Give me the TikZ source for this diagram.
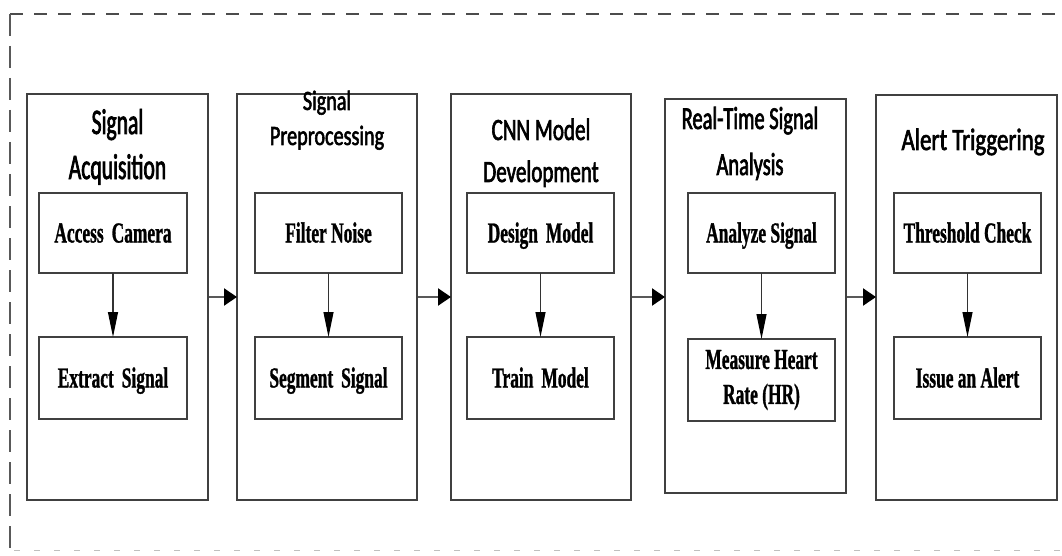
\documentclass[tikz,border=0pt]{standalone}
\usepackage{fontspec}
\usetikzlibrary{arrows.meta}
\newfontfamily\innerfont{Liberation Serif}[FakeStretch=0.6,FakeBold=1]
\newfontfamily\tfA{Carlito}[FakeStretch=0.6,FakeBold=2]
\newfontfamily\tfB{Carlito}[FakeStretch=0.72,FakeBold=2]
\newfontfamily\tfC{Carlito}[FakeStretch=0.68,FakeBold=2]
\newfontfamily\tfD{Carlito}[FakeStretch=0.64,FakeBold=2]
\newfontfamily\tfE{Carlito}[FakeStretch=0.74,FakeBold=2]
\newcommand\wsp{\hspace{8pt}}
\tikzset{
  outerbox/.style={draw=black!75, line width=1.4pt, minimum width=181pt, inner sep=0pt, outer sep=0pt},
  innerbox/.style={draw=black!75, line width=1.4pt, minimum width=147pt, inner sep=0pt, outer sep=0pt,
     font=\innerfont\bfseries\fontsize{29}{35}\selectfont, text height=19pt, text depth=0pt},
  titletext/.style={anchor=base, inner sep=0pt, text=black},
  downarrow/.style={draw=black!80, line width=1.1pt, -{Triangle[length=25pt,width=10pt,color=black]}},
  sidearrow/.style={draw=black!65, line width=2.2pt, -{Triangle[length=13pt,width=17pt,color=black]}, shorten <=0.7pt},
}
\begin{document}
\begin{tikzpicture}[x=1pt,y=-1pt]
\useasboundingbox (0,0) rectangle (1062,556);
% frame
\draw[black!70, line width=1.2pt, dash pattern=on 13pt off 11pt] (10,14) -- (1062,14);
\draw[black!65, line width=1.2pt, dash pattern=on 22pt off 10pt] (10,14) -- (10,556);
\draw[black!25, line width=1pt, dash pattern=on 6pt off 14pt] (14,550) -- (1062,550);
% outer boxes
\node[outerbox, minimum height=406pt] (o1) at (117.5,297) {};
\node[outerbox, minimum height=406pt, minimum width=180pt] (o2) at (327,297) {};
\node[outerbox, minimum height=406pt, minimum width=180pt] (o3) at (541,297) {};
\node[outerbox, minimum height=394pt] (o4) at (755.5,296) {};
\node[outerbox, minimum height=405pt] (o5) at (966.5,297.5) {};
% titles
\node[titletext, font=\tfA\fontsize{36}{45}\selectfont] (t1a) at (117.5,134) {Signal};
\node[titletext, font=\tfA\fontsize{36}{45}\selectfont] (t1b) at (117.5,179) {Acquisition};
\node[titletext, font=\tfB\fontsize{28}{35}\selectfont] (t2a) at (327,110) {Signal};
\node[titletext, font=\tfB\fontsize{28}{35}\selectfont] (t2b) at (327,145) {Preprocessing};
\node[titletext, font=\tfC\fontsize{31}{40}\selectfont] (t3a) at (541,140) {CNN Model};
\node[titletext, font=\tfC\fontsize{31}{40}\selectfont] (t3b) at (541,182) {Development};
\node[titletext, font=\tfD\fontsize{32}{40}\selectfont] (t4a) at (750,129) {Real-Time Signal};
\node[titletext, font=\tfD\fontsize{32}{40}\selectfont] (t4b) at (750,175) {Analysis};
\node[titletext, font=\tfE\fontsize{31}{40}\selectfont] (t5a) at (973,150) {Alert Triggering};
% inner boxes
\node[innerbox, minimum height=80pt, minimum width=148pt] (a1) at (113,233) {Access\wsp Camera};
\node[innerbox, minimum height=82pt, minimum width=148pt] (b1) at (113,378) {Extract\wsp Signal};
\node[innerbox, minimum height=80pt] (a2) at (328.5,233) {Filter Noise};
\node[innerbox, minimum height=82pt] (b2) at (328.5,378) {Segment\wsp Signal};
\node[innerbox, minimum height=80pt] (a3) at (540.5,233) {Design\wsp Model};
\node[innerbox, minimum height=82pt] (b3) at (540.5,378) {Train\wsp Model};
\node[innerbox, minimum height=80pt] (a4) at (761.5,233) {Analyze Signal};
\node[innerbox, minimum height=82pt, align=center, text height=, text depth=] (b4) at (761.5,380) {Measure Heart\\Rate (HR)};
\node[innerbox, minimum height=80pt] (a5) at (967.5,233) {Threshold Check};
\node[innerbox, minimum height=82pt] (b5) at (967.5,378) {Issue an Alert};
% arrows inside
\foreach \i in {1,...,5} {\draw[downarrow] (a\i) -- (b\i);}
% arrows between stages
\draw[sidearrow] (o1.east |- 0,297) -- (o2.west |- 0,297);
\draw[sidearrow] (o2.east |- 0,297) -- (o3.west |- 0,297);
\draw[sidearrow] (o3.east |- 0,297) -- (o4.west |- 0,297);
\draw[sidearrow] (o4.east |- 0,297) -- (o5.west |- 0,297);
\end{tikzpicture}
\end{document}
